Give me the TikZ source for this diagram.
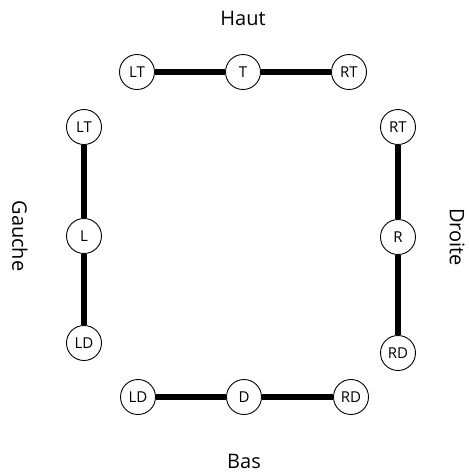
\documentclass[tikz,border=0pt]{standalone}
\usepackage{fontspec}
\setmainfont{Open Sans}
\begin{document}
\begin{tikzpicture}[x=1pt,y=-1pt,
  pt/.style={circle,draw,line width=0.9pt,minimum size=35pt,inner sep=0pt,font=\fontsize{15}{15}\selectfont,fill=white},
  bar/.style={line width=5.5pt},
  side/.style={font=\fontsize{20}{20}\selectfont}]
\useasboundingbox (0,0) rectangle (469,475);
\node[pt] (tLT) at (137,72) {LT};
\node[pt] (tT) at (243,72) {T};
\node[pt] (tRT) at (349,72) {RT};
\node[pt] (lLT) at (84,127) {LT};
\node[pt] (lL) at (84,236) {L};
\node[pt] (lLD) at (84,343) {LD};
\node[pt] (rRT) at (398,127) {RT};
\node[pt] (rR) at (398,237) {R};
\node[pt] (rRD) at (398,353) {RD};
\node[pt] (bLD) at (138,397) {LD};
\node[pt] (bD) at (244,397) {D};
\node[pt] (bRD) at (351,397) {RD};
\draw[bar] (tLT) -- (tT) -- (tRT);
\draw[bar] (lLT) -- (lL) -- (lLD);
\draw[bar] (rRT) -- (rR) -- (rRD);
\draw[bar] (bLD) -- (bD) -- (bRD);
\node[side] (haut) at (243,18) {Haut};
\node[side] (bas) at (244,461) {Bas};
\node[side,rotate=-90] (gauche) at (20,236) {Gauche};
\node[side,rotate=-90] (droite) at (457,237) {Droite};
\end{tikzpicture}
\end{document}
